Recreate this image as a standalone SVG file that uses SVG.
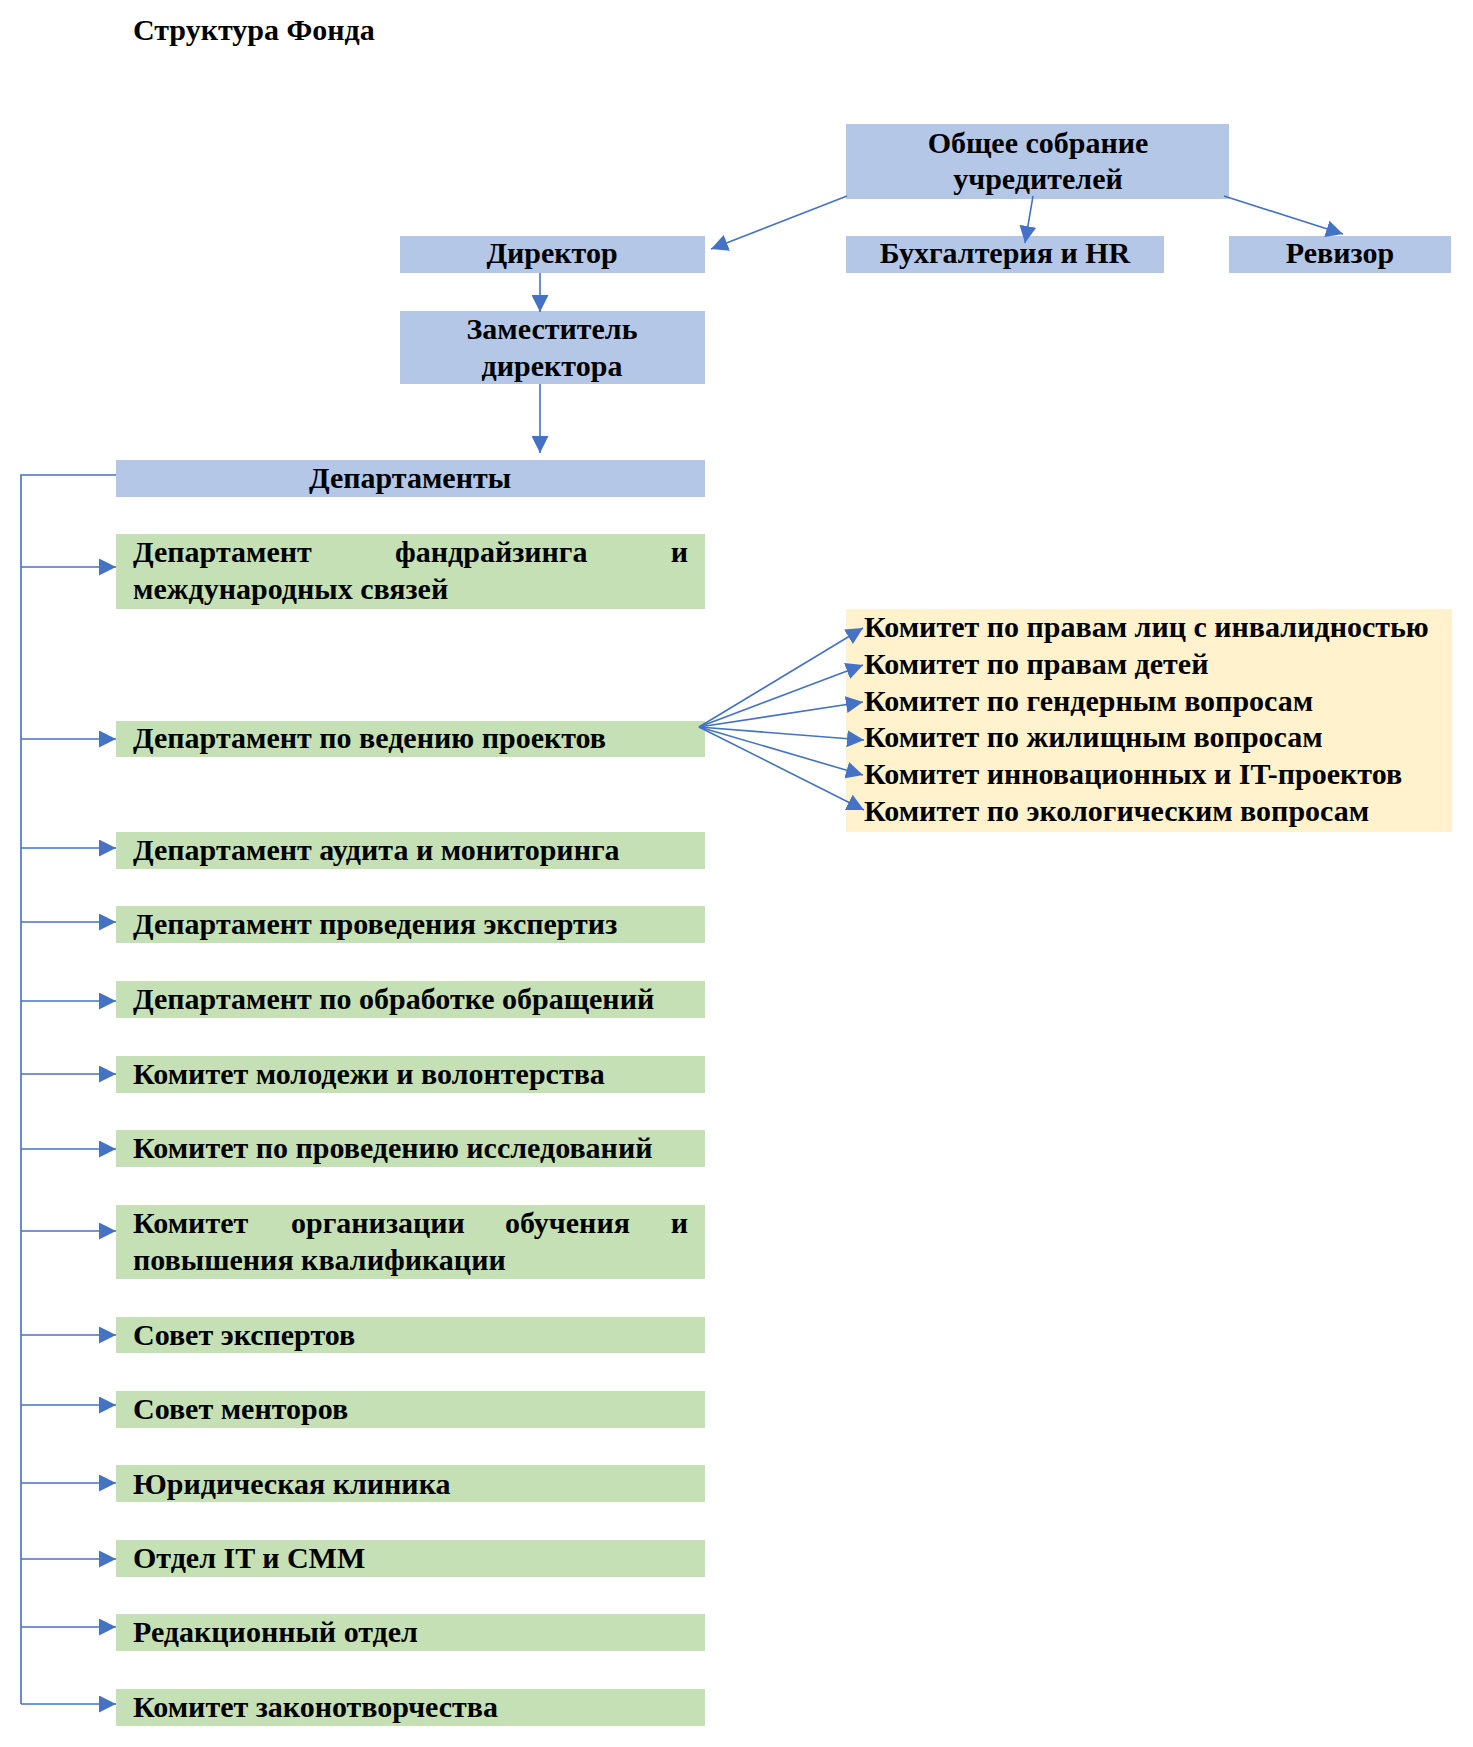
<svg xmlns="http://www.w3.org/2000/svg" width="1473" height="1747" viewBox="0 0 1473 1747">
<style>
text{font-family:"Liberation Serif","Times New Roman",serif;font-weight:bold;font-size:30px;fill:#000}
.c{text-anchor:middle}
.blue{fill:#B4C7E7}
.green{fill:#C5E0B4}
.yellow{fill:#FFF2CC}
.ln{stroke:#4472C4;stroke-width:1.6;fill:none}
.ar{marker-end:url(#ah)}
</style>
<defs>
<marker id="ah" markerWidth="18" markerHeight="17" refX="17" refY="8.5" orient="auto" markerUnits="userSpaceOnUse">
<path d="M0,0 L17,8.5 L0,17 z" fill="#4472C4"/>
</marker>
</defs>
<rect width="1473" height="1747" fill="#fff"/>
<text id="title" x="133" y="40">Структура Фонда</text>

<g id="n-sobranie"><rect class="blue" x="846" y="124" width="383" height="75"/>
<text class="c" x="1038" y="153">Общее собрание</text><text class="c" x="1038" y="189">учредителей</text></g>
<g id="n-director"><rect class="blue" x="400" y="236" width="305" height="37"/>
<text class="c" x="552" y="263">Директор</text></g>
<g id="n-buh"><rect class="blue" x="846" y="236" width="318" height="37"/>
<text class="c" x="1005" y="263">Бухгалтерия и HR</text></g>
<g id="n-revizor"><rect class="blue" x="1229" y="236" width="222" height="37"/>
<text class="c" x="1340" y="263">Ревизор</text></g>
<g id="n-zam"><rect class="blue" x="400" y="311" width="305" height="73"/>
<text class="c" x="552" y="339">Заместитель</text><text class="c" x="552" y="376">директора</text></g>
<g id="n-deps"><rect class="blue" x="116" y="460" width="589" height="37"/>
<text class="c" x="410" y="488">Департаменты</text></g>

<g id="n-d1"><rect class="green" x="116" y="534" width="589" height="75"/>
<text y="562"><tspan x="133">Департамент</tspan><tspan x="395">фандрайзинга</tspan><tspan x="688" text-anchor="end">и</tspan></text>
<text x="133" y="599">международных связей</text></g>
<g id="n-d2"><rect class="green" x="116" y="721" width="589" height="36"/>
<text x="133" y="748">Департамент по ведению проектов</text></g>
<g id="n-d3"><rect class="green" x="116" y="832" width="589" height="37"/>
<text x="133" y="860">Департамент аудита и мониторинга</text></g>
<g id="n-d4"><rect class="green" x="116" y="906" width="589" height="37"/>
<text x="133" y="934">Департамент проведения экспертиз</text></g>
<g id="n-d5"><rect class="green" x="116" y="981" width="589" height="37"/>
<text x="133" y="1009">Департамент по обработке обращений</text></g>
<g id="n-d6"><rect class="green" x="116" y="1056" width="589" height="37"/>
<text x="133" y="1084">Комитет молодежи и волонтерства</text></g>
<g id="n-d7"><rect class="green" x="116" y="1130" width="589" height="37"/>
<text x="133" y="1158">Комитет по проведению исследований</text></g>
<g id="n-d8"><rect class="green" x="116" y="1205" width="589" height="74"/>
<text y="1233"><tspan x="133">Комитет</tspan><tspan x="291">организации</tspan><tspan x="505">обучения</tspan><tspan x="688" text-anchor="end">и</tspan></text>
<text x="133" y="1270">повышения квалификации</text></g>
<g id="n-d9"><rect class="green" x="116" y="1317" width="589" height="36"/>
<text x="133" y="1345">Совет экспертов</text></g>
<g id="n-d10"><rect class="green" x="116" y="1391" width="589" height="37"/>
<text x="133" y="1419">Совет менторов</text></g>
<g id="n-d11"><rect class="green" x="116" y="1465" width="589" height="37"/>
<text x="133" y="1494">Юридическая клиника</text></g>
<g id="n-d12"><rect class="green" x="116" y="1540" width="589" height="37"/>
<text x="133" y="1568">Отдел IT и СММ</text></g>
<g id="n-d13"><rect class="green" x="116" y="1614" width="589" height="37"/>
<text x="133" y="1642">Редакционный отдел</text></g>
<g id="n-d14"><rect class="green" x="116" y="1689" width="589" height="37"/>
<text x="133" y="1717">Комитет законотворчества</text></g>

<g id="n-committees"><rect class="yellow" x="846" y="609" width="606" height="223"/>
<text x="864" y="637">Комитет по правам лиц с инвалидностью</text>
<text x="864" y="674">Комитет по правам детей</text>
<text x="864" y="711">Комитет по гендерным вопросам</text>
<text x="864" y="747">Комитет по жилищным вопросам</text>
<text x="864" y="784">Комитет инновационных и IT-проектов</text>
<text x="864" y="821">Комитет по экологическим вопросам</text></g>

<g id="connectors">
<line class="ln ar" x1="847" y1="196" x2="711" y2="249"/>
<line class="ln ar" x1="1033" y1="196" x2="1025" y2="243"/>
<line class="ln ar" x1="1224" y1="196" x2="1343" y2="234"/>
<line class="ln ar" x1="540" y1="273" x2="540" y2="312"/>
<line class="ln ar" x1="540" y1="384" x2="540" y2="453"/>
<polyline class="ln" points="116,475 21,475 21,1704"/>
<line class="ln ar" x1="21" y1="567" x2="116" y2="567"/>
<line class="ln ar" x1="21" y1="739" x2="116" y2="739"/>
<line class="ln ar" x1="21" y1="848" x2="116" y2="848"/>
<line class="ln ar" x1="21" y1="922" x2="116" y2="922"/>
<line class="ln ar" x1="21" y1="1001" x2="116" y2="1001"/>
<line class="ln ar" x1="21" y1="1074" x2="116" y2="1074"/>
<line class="ln ar" x1="21" y1="1149" x2="116" y2="1149"/>
<line class="ln ar" x1="21" y1="1231" x2="116" y2="1231"/>
<line class="ln ar" x1="21" y1="1335" x2="116" y2="1335"/>
<line class="ln ar" x1="21" y1="1405" x2="116" y2="1405"/>
<line class="ln ar" x1="21" y1="1483" x2="116" y2="1483"/>
<line class="ln ar" x1="21" y1="1559" x2="116" y2="1559"/>
<line class="ln ar" x1="21" y1="1627" x2="116" y2="1627"/>
<line class="ln ar" x1="21" y1="1704" x2="116" y2="1704"/>
<line class="ln ar" x1="699" y1="727" x2="863" y2="628"/>
<line class="ln ar" x1="699" y1="727" x2="863" y2="665"/>
<line class="ln ar" x1="699" y1="727" x2="863" y2="702"/>
<line class="ln ar" x1="699" y1="727" x2="864" y2="740"/>
<line class="ln ar" x1="699" y1="727" x2="863" y2="775"/>
<line class="ln ar" x1="699" y1="727" x2="864" y2="810"/>
</g>
</svg>
